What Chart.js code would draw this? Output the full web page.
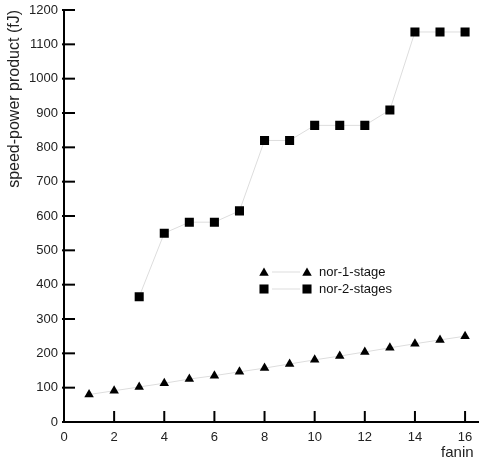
<!DOCTYPE html>
<html>
<head>
<meta charset="utf-8">
<script src="https://cdn.jsdelivr.net/npm/chart.js@4.4.1/dist/chart.umd.min.js"></script>
<style>
  html, body { margin: 0; padding: 0; background: #fff; overflow: hidden; }
  #wrap { width: 480px; height: 464px; position: relative; }
</style>
</head>
<body>
<div id="wrap"><canvas id="chart"></canvas></div>
<script>
const fanin = [1, 2, 3, 4, 5, 6, 7, 8, 9, 10, 11, 12, 13, 14, 15, 16];
const nor1Stage = [80, 91, 102, 113, 125, 135, 146, 157, 169, 181, 192, 204, 216, 228, 239, 250];
const nor2Stages = [null, null, 365, 550, 582, 582, 615, 820, 820, 864, 864, 864, 909, 1136, 1136, 1136];
const xTicks = [0, 2, 4, 6, 8, 10, 12, 14, 16];
const yTicks = [0, 100, 200, 300, 400, 500, 600, 700, 800, 900, 1000, 1100, 1200];

const seriesNames = ["nor-1-stage", "nor-2-stages"];
const seriesStyles = ["triangle", "rect"];
const seriesRadius = [5.5, 6.4];

const toPoints = (vals) => fanin.map((x, i) => ({ x: x, y: vals[i] })).filter(p => p.y !== null);

const FONT = "'Liberation Sans', Arial, sans-serif";

// inward tick marks, axis extension, custom legend
const extras = {
  id: "extras",
  afterDraw(chart) {
    const ctx = chart.ctx;
    const xs = chart.scales.x, ys = chart.scales.y;
    const area = chart.chartArea;
    ctx.save();
    ctx.strokeStyle = "#000";
    ctx.lineWidth = 2;
    // x axis line runs a bit past the plot, as in the original
    ctx.beginPath();
    ctx.moveTo(area.right - 1, area.bottom);
    ctx.lineTo(chart.width - 1, area.bottom);
    ctx.stroke();
    yTicks.forEach(v => {
      const py = ys.getPixelForValue(v);
      ctx.beginPath();
      ctx.moveTo(area.left - 2, py);
      ctx.lineTo(area.left + 11, py);
      ctx.stroke();
    });
    xTicks.forEach(v => {
      if (v === 0) return;
      const px = xs.getPixelForValue(v);
      ctx.beginPath();
      ctx.moveTo(px, area.bottom);
      ctx.lineTo(px, area.bottom - 11);
      ctx.stroke();
    });

    // legend
    const lx = area.left + 200, ly = area.top + 262;
    seriesNames.forEach((name, i) => {
      const y = ly + i * 17;
      ctx.strokeStyle = "#dddddd";
      ctx.lineWidth = 1;
      ctx.beginPath();
      ctx.moveTo(lx + 8, y);
      ctx.lineTo(lx + 36, y);
      ctx.stroke();
      ctx.fillStyle = "#000";
      const opts = { pointStyle: seriesStyles[i], radius: seriesRadius[i], rotation: 0, borderWidth: 0 };
      Chart.helpers.drawPoint(ctx, opts, lx, y + (i === 0 ? 1 : 0));
      Chart.helpers.drawPoint(ctx, opts, lx + 43, y + (i === 0 ? 1 : 0));
      ctx.font = "13px " + FONT;
      ctx.textBaseline = "middle";
      ctx.textAlign = "left";
      ctx.fillStyle = "#111";
      ctx.fillText(name, lx + 55, y);
    });
    ctx.restore();
  }
};

new Chart(document.getElementById("chart"), {
  type: "scatter",
  data: {
    datasets: [
      {
        label: seriesNames[0],
        data: toPoints(nor1Stage),
        showLine: true,
        borderColor: "#dddddd",
        borderWidth: 1,
        pointStyle: seriesStyles[0],
        pointRadius: seriesRadius[0],
        pointBackgroundColor: "#000",
        pointBorderWidth: 0
      },
      {
        label: seriesNames[1],
        data: toPoints(nor2Stages),
        showLine: true,
        borderColor: "#dddddd",
        borderWidth: 1,
        pointStyle: seriesStyles[1],
        pointRadius: seriesRadius[1],
        pointBackgroundColor: "#000",
        pointBorderWidth: 0
      }
    ]
  },
  options: {
    responsive: true,
    maintainAspectRatio: false,
    animation: false,
    layout: { padding: { left: 0, right: 1, top: 10, bottom: 0 } },
    plugins: {
      legend: { display: false },
      tooltip: { enabled: false }
    },
    scales: {
      x: {
        type: "linear",
        min: 0,
        max: 16.34,
        afterBuildTicks: (s) => { s.ticks = xTicks.map(v => ({ value: v })); },
        afterFit: (s) => { s.height = 42; s.paddingLeft = 0; s.paddingRight = 0; },
        grid: { display: false, drawTicks: false },
        border: { display: true, color: "#000", width: 2 },
        ticks: { color: "#222", font: { family: FONT, size: 13 }, padding: 8, maxRotation: 0, callback: (v) => String(v) },
        title: { display: true, text: "fanin", align: "end", color: "#222", font: { family: FONT, size: 15 }, padding: { top: 0, bottom: 2 } }
      },
      y: {
        min: 0,
        max: 1200,
        afterBuildTicks: (s) => { s.ticks = yTicks.map(v => ({ value: v })); },
        afterFit: (s) => { s.width = 64; s.paddingTop = 0; s.paddingBottom = 0; },
        grid: { display: false, drawTicks: false },
        border: { display: true, color: "#000", width: 2 },
        ticks: { color: "#222", font: { family: FONT, size: 13 }, padding: 6, callback: (v) => String(v) },
        title: { display: true, text: "speed-power product (fJ)", align: "end", color: "#222", font: { family: FONT, size: 16 }, padding: { top: 5, bottom: 0 } }
      }
    }
  },
  plugins: [extras]
});
</script>
</body>
</html>
